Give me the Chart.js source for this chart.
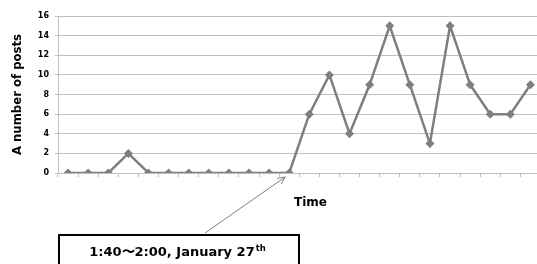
<!DOCTYPE html>
<html><head><meta charset="utf-8">
<script src="https://cdn.jsdelivr.net/npm/chart.js@4/dist/chart.umd.min.js"></script>
<style>
html,body{margin:0;padding:0;background:#fff;overflow:hidden;width:537px;height:264px}
#wrap{position:absolute;left:0;top:0;width:545px;height:264px}
</style>
</head><body>
<div id="wrap"><canvas id="c" width="545" height="264"></canvas></div>
<script>
// 20-minute time slots (labels hidden in the original)
const timeSlots = ["22:00","22:20","22:40","23:00","23:20","23:40","0:00","0:20","0:40","1:00","1:20","1:40",
                   "2:00","2:20","2:40","3:00","3:20","3:40","4:00","4:20","4:40","5:00","5:20","5:40"];
const posts = [0,0,0,2,0,0,0,0,0,0,0,0,6,10,4,9,15,9,3,15,9,6,6,9];
const yTicks = [0,2,4,6,8,10,12,14,16];
const yTitle = "A number of posts";
const xTitle = "Time";
const noteText = "1:40\u301C2:00, January 27";
const noteSup = "th";
const noteIndex = 11;

const FONT = "'DejaVu Sans', 'Open Sans', sans-serif";
const GRID = '#bfbfbf';
const LINE = '#7f7f7f';

const overlay = {
  id: 'overlay',
  afterDraw(chart) {
    const ctx = chart.ctx;
    const xs = chart.scales.x, ys = chart.scales.y;
    ctx.save();
    // x axis title
    ctx.font = "bold 12px " + FONT;
    ctx.fillStyle = '#000';
    ctx.textAlign = 'center';
    ctx.textBaseline = 'middle';
    ctx.fillText(xTitle, 310.5, 203);

    // arrow to the annotated point
    const px = xs.getPixelForValue(noteIndex);
    const py = ys.getPixelForValue(posts[noteIndex]);
    const tx = px - 4, ty = py + 4;
    const sx = 205, sy = 233;
    ctx.strokeStyle = LINE;
    ctx.lineWidth = 1;
    ctx.beginPath();
    ctx.moveTo(sx, sy); ctx.lineTo(tx, ty);
    const ang = Math.atan2(ty - sy, tx - sx);
    const L = 8, a = 0.45;
    ctx.moveTo(tx - L * Math.cos(ang - a), ty - L * Math.sin(ang - a));
    ctx.lineTo(tx, ty);
    ctx.lineTo(tx - L * Math.cos(ang + a), ty - L * Math.sin(ang + a));
    ctx.stroke();

    // annotation box
    ctx.strokeStyle = '#000';
    ctx.lineWidth = 2;
    ctx.strokeRect(59, 235, 240, 40);
    ctx.fillStyle = '#000';
    ctx.textAlign = 'left';
    ctx.textBaseline = 'alphabetic';
    ctx.font = "bold 13px " + FONT;
    const w1 = ctx.measureText(noteText).width;
    ctx.font = "bold 8.5px " + FONT;
    const w2 = ctx.measureText(noteSup).width;
    const start = 177.5 - (w1 + w2 + 1) / 2;
    ctx.font = "bold 13px " + FONT;
    ctx.fillText(noteText, start, 255.5);
    ctx.font = "bold 8.5px " + FONT;
    ctx.fillText(noteSup, start + w1 + 1, 251);
    ctx.restore();
  }
};

new Chart(document.getElementById('c'), {
  type: 'line',
  data: {
    labels: timeSlots,
    datasets: [{
      data: posts,
      borderColor: LINE,
      backgroundColor: LINE,
      borderWidth: 2.5,
      tension: 0,
      pointStyle: 'rectRot',
      pointRadius: 4.5,
      pointBackgroundColor: LINE,
      pointBorderColor: LINE,
      pointBorderWidth: 0
    }]
  },
  options: {
    responsive: false,
    devicePixelRatio: 1,
    animation: false,
    layout: { padding: { top: 16, right: 3, bottom: 81, left: 0 } },
    plugins: { legend: { display: false }, tooltip: { enabled: false } },
    scales: {
      x: {
        type: 'category',
        offset: true,
        grid: { display: true, drawOnChartArea: false, drawTicks: true, tickLength: 4, offset: true, color: GRID },
        border: { display: true, color: GRID, width: 1 },
        ticks: { display: false },
        afterFit(s) { s.height = 10; }
      },
      y: {
        min: 0, max: 16,
        afterBuildTicks(s) { s.ticks = yTicks.map(v => ({ value: v })); },
        grid: { color: GRID, tickLength: 3, drawTicks: true },
        border: { display: true, color: GRID, width: 1 },
        ticks: { color: '#000', font: { family: FONT, size: 8, weight: 'bold' }, padding: 6 },
        title: { display: true, text: yTitle, color: '#000', font: { family: FONT, size: 11.7, weight: 'bold' }, padding: { top: 11, bottom: 0 } },
        afterFit(s) { s.width = 58; }
      }
    }
  },
  plugins: [overlay]
});
</script>
</body></html>
